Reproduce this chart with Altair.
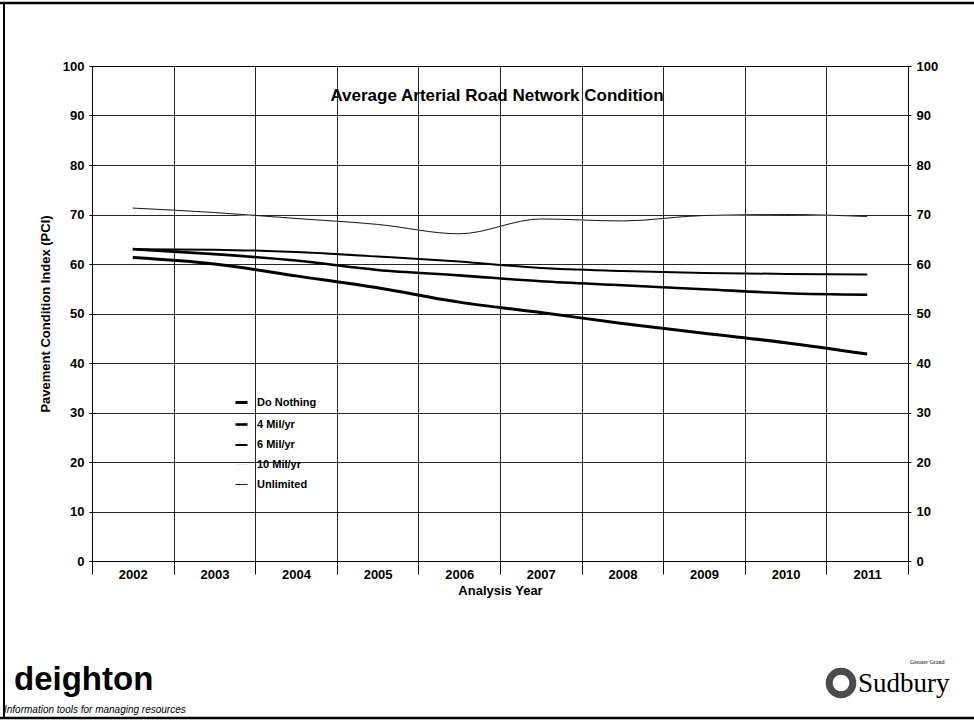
import altair as alt
import pandas as pd

years = [2002, 2003, 2004, 2005, 2006, 2007, 2008, 2009, 2010, 2011]
series_names = ["Do Nothing", "4 Mil/yr", "6 Mil/yr", "10 Mil/yr", "Unlimited"]
do_nothing = [61.3, 60.0, 57.6, 55.2, 52.3, 50.2, 48.0, 46.0, 44.1, 41.8]
four_mil = [63.0, 62.0, 60.7, 58.8, 57.7, 56.5, 55.7, 54.9, 54.1, 53.8]
six_mil = [63.0, 62.9, 62.4, 61.5, 60.5, 59.2, 58.6, 58.2, 58.0, 57.9]
ten_mil = [71.2, 70.3, 69.1, 67.9, 66.1, 69.0, 68.6, 69.7, 70.0, 69.5]
unlimited = [71.3, 70.4, 69.2, 68.0, 66.1, 69.1, 68.7, 69.8, 70.0, 69.6]
line_colors = ["#000000", "#000000", "#000000", "#ececec", "#1a1a1a"]
line_widths = [3.0, 2.6, 2.0, 1.0, 1.0]

draw_order = ["10 Mil/yr", "Unlimited", "6 Mil/yr", "4 Mil/yr", "Do Nothing"]
vals = {"Do Nothing": do_nothing, "4 Mil/yr": four_mil, "6 Mil/yr": six_mil,
        "10 Mil/yr": ten_mil, "Unlimited": unlimited}
rows = []
for name in draw_order:
    for yr, v in zip(years, vals[name]):
        rows.append({"Year": str(yr), "Series": name, "PCI": v})
df = pd.DataFrame(rows)

FONT = "Liberation Sans"

x_enc = alt.X(
    "Year:O",
    scale=alt.Scale(type="band", paddingInner=0, paddingOuter=0),
    bandPosition=0.5,
    axis=alt.Axis(title="Analysis Year", tickBand="extent", labelAngle=0, grid=True,
                  gridColor="black", gridOpacity=0.85, tickSize=13, labelPadding=-6,
                  titlePadding=3, domain=True, labelFontSize=13, titleFontSize=13),
)

lines = alt.Chart(df).mark_line(interpolate="monotone").encode(
    x=x_enc,
    y=alt.Y("PCI:Q", scale=alt.Scale(domain=[0, 100], nice=False),
            axis=alt.Axis(values=list(range(0, 101, 10)), orient="left", grid=True,
                          gridColor="black", gridOpacity=0.85, tickSize=3,
                          labelPadding=5, title="Pavement Condition Index (PCI)",
                          titlePadding=10, labelFontSize=13, titleFontSize=13)),
    color=alt.Color("Series:N", scale=alt.Scale(domain=series_names, range=line_colors),
                    legend=alt.Legend(title=None, orient="none", legendX=142, legendY=329,
                                      symbolType="stroke", symbolSize=144,
                                      labelFont=FONT, labelFontWeight="bold",
                                      labelFontSize=11, rowPadding=8, labelOffset=8,
                                      padding=0)),
    strokeWidth=alt.StrokeWidth("Series:N",
                                scale=alt.Scale(type="ordinal", domain=series_names,
                                                range=line_widths),
                                legend=alt.Legend(title=None, orient="none", legendX=142,
                                                  legendY=329, symbolType="stroke",
                                                  symbolSize=144)),
    detail="Series:N",
)

right_axis = alt.Chart(df).mark_point(opacity=0).encode(
    x=x_enc,
    y=alt.Y("PCI:Q", scale=alt.Scale(domain=[0, 100], nice=False),
            axis=alt.Axis(values=list(range(0, 101, 10)), orient="right", grid=False,
                          tickSize=3, labelPadding=5, title=None, labelFontSize=13)),
)

def label(text, x, y, size, weight="normal", font=FONT, style="normal", align="left",
          baseline="alphabetic"):
    return alt.Chart(pd.DataFrame({"t": [text]})).mark_text(
        font=font, fontSize=size, fontWeight=weight, fontStyle=style, align=align,
        baseline=baseline, color="black",
    ).encode(text="t:N", x=alt.value(x), y=alt.value(y))

title_t = label("Average Arterial Road Network Condition", 405, 35, 17, weight="bold",
                align="center")
deighton = label("deighton", -78, 624, 33, weight="bold")
tagline = label("Information tools for managing resources", -88, 647, 10, style="italic")
sudbury = label("Sudbury", 766, 626, 27, font="Liberation Serif")
greater = label("Greater Grand", 818, 598, 6, font="Liberation Serif")

logo = alt.Chart(pd.DataFrame({"t": [0]})).mark_point(
    shape="circle", size=560, filled=False, strokeWidth=7, color="black"
).encode(x=alt.value(749), y=alt.value(617))

frame_top = alt.Chart(pd.DataFrame({"t": [0]})).mark_rule(color="black", strokeWidth=2.5).encode(
    x=alt.value(-92), x2=alt.value(882), y=alt.value(-63))
frame_left = alt.Chart(pd.DataFrame({"t": [0]})).mark_rule(color="black", strokeWidth=2).encode(
    x=alt.value(-88), y=alt.value(-63), y2=alt.value(652))
frame_bottom = alt.Chart(pd.DataFrame({"t": [0]})).mark_rule(color="black", strokeWidth=2.5).encode(
    x=alt.value(-92), x2=alt.value(882), y=alt.value(652))

chart = alt.layer(
    lines, right_axis, title_t, deighton, tagline, sudbury, greater, logo,
    frame_top, frame_left, frame_bottom,
).resolve_scale(y="independent").properties(
    width=816, height=495,
    autosize=alt.AutoSizeParams(type="none"),
    padding={"left": 92, "top": 66, "right": 66, "bottom": 161},
    background="white",
).configure_axis(
    labelFont=FONT, labelFontWeight="bold", labelColor="black",
    titleFont=FONT, titleFontWeight="bold", titleColor="black",
    domainColor="black", tickColor="black",
).configure_view(stroke="black", strokeWidth=1)

chart.save("out.html", embed_options={"renderer": "svg", "actions": False})
